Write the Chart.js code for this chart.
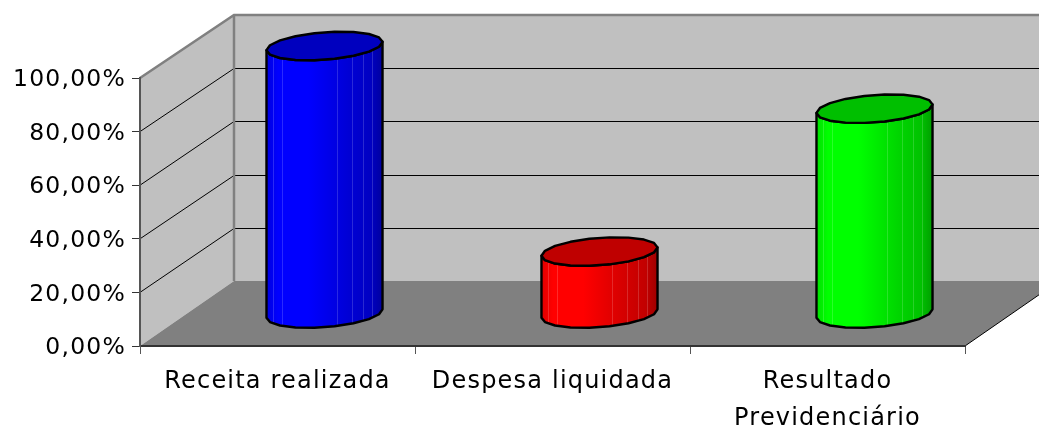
<!DOCTYPE html>
<html>
<head>
<meta charset="utf-8">
<script src="https://cdn.jsdelivr.net/npm/chart.js@4"></script>
<style>
  html, body { margin: 0; padding: 0; background: #fff; }
  canvas { display: block; }
</style>
</head>
<body>
<canvas id="grafico" width="1039" height="431"></canvas>
<script>
const categorias = ['Receita realizada', 'Despesa liquidada', ['Resultado', 'Previdenciário']];
const valores = [100, 23.3, 76.6];
const cores = ['#0000ff', '#ff0000', '#00ff00'];
const rotulosY = ['0,00%', '20,00%', '40,00%', '60,00%', '80,00%', '100,00%'];

// profundidade da caixa 3D
const DX = 94;
const DY = -65;
const DY_TOPO = -63;

function escurece(hex, f) {
  const n = parseInt(hex.slice(1), 16);
  const r = Math.round((n >> 16 & 255) * f);
  const g = Math.round((n >> 8 & 255) * f);
  const b = Math.round((n & 255) * f);
  return `rgb(${r},${g},${b})`;
}

// as barras viram cilindros, no meio da profundidade
Chart.BarElement.prototype.draw = function (ctx) {
  const cor = this.options.backgroundColor;
  const rx = this.width / 2;
  const ry = this.width * 0.118;
  const inclina = this.width * 0.036;
  const cx = this.x + DX / 2;
  const topo = this.y + DY / 2 + 0.5;
  const base = this.base + DY / 2 + 0.5;
  const ponto = (cy, t) => [cx + rx * Math.cos(t), cy + ry * Math.sin(t) - inclina * Math.cos(t)];
  const passos = 9;

  ctx.save();
  ctx.lineJoin = 'round';

  // corpo
  const corpo = new Path2D();
  for (let i = 0; i <= passos; i++) {
    const p = ponto(base, Math.PI - Math.PI * i / passos);
    if (i === 0) corpo.moveTo(p[0], p[1]); else corpo.lineTo(p[0], p[1]);
  }
  for (let i = 0; i <= passos; i++) {
    const p = ponto(topo, Math.PI * i / passos);
    corpo.lineTo(p[0], p[1]);
  }
  corpo.closePath();
  const grad = ctx.createLinearGradient(cx - rx, 0, cx + rx, 0);
  grad.addColorStop(0, escurece(cor, 0.88));
  grad.addColorStop(0.1, escurece(cor, 1));
  grad.addColorStop(0.36, escurece(cor, 1));
  grad.addColorStop(0.7, escurece(cor, 0.84));
  grad.addColorStop(0.9, escurece(cor, 0.76));
  grad.addColorStop(1, escurece(cor, 0.62));
  ctx.fillStyle = grad;
  ctx.fill(corpo);

  // facetas claras
  ctx.save();
  ctx.clip(corpo);
  ctx.strokeStyle = 'rgba(255,255,255,0.16)';
  ctx.lineWidth = 1;
  [0.06, 0.13, 0.61, 0.74, 0.83, 0.91].forEach(f => {
    const x = Math.round(cx - rx + f * this.width) + 0.5;
    ctx.beginPath();
    ctx.moveTo(x, topo - ry * 2);
    ctx.lineTo(x, base + ry * 2);
    ctx.stroke();
  });
  ctx.restore();

  ctx.strokeStyle = '#000';
  ctx.lineWidth = 2.4;
  ctx.stroke(corpo);

  // tampa
  const tampa = new Path2D();
  for (let i = 0; i < passos * 2; i++) {
    const p = ponto(topo, Math.PI * i / passos);
    if (i === 0) tampa.moveTo(p[0], p[1]); else tampa.lineTo(p[0], p[1]);
  }
  tampa.closePath();
  ctx.fillStyle = escurece(cor, 0.75);
  ctx.fill(tampa);
  ctx.stroke(tampa);
  ctx.restore();
};

const caixa3d = {
  id: 'caixa3d',
  beforeDraw(chart) {
    const { ctx, chartArea: a, scales } = chart;
    const y = scales.y;
    const fundo = v => {
      const py = y.getPixelForValue(v);
      return py + DY + (DY_TOPO - DY) * v / 100;
    };
    const fimX = a.right + DX;

    // o texto original é bem espaçado (o chart zera o contexto ao dimensionar, por isso aqui)
    ctx.letterSpacing = '1.2px';

    ctx.save();
    // parede lateral
    ctx.fillStyle = '#c0c0c0';
    ctx.beginPath();
    ctx.moveTo(a.left, a.top);
    ctx.lineTo(a.left + DX, fundo(100));
    ctx.lineTo(a.left + DX, fundo(0));
    ctx.lineTo(a.left, a.bottom);
    ctx.closePath();
    ctx.fill();
    // parede do fundo
    ctx.fillRect(a.left + DX, fundo(100), fimX - a.left - DX, fundo(0) - fundo(100));
    // piso
    ctx.fillStyle = '#808080';
    ctx.beginPath();
    ctx.moveTo(a.left, a.bottom);
    ctx.lineTo(a.right, a.bottom);
    ctx.lineTo(fimX, fundo(0));
    ctx.lineTo(a.left + DX, fundo(0));
    ctx.closePath();
    ctx.fill();

    // linhas de grade
    ctx.strokeStyle = '#000';
    ctx.lineWidth = 1;
    y.ticks.forEach(t => {
      if (t.value === 0 || t.value === 100) return;
      const py = y.getPixelForValue(t.value);
      const by = Math.round(fundo(t.value)) + 0.5;
      ctx.beginPath();
      ctx.moveTo(a.left, py);
      ctx.lineTo(a.left + DX, by);
      ctx.lineTo(fimX, by);
      ctx.stroke();
    });

    // arestas cinza
    ctx.strokeStyle = '#808080';
    ctx.lineWidth = 2.5;
    ctx.beginPath();
    ctx.moveTo(a.left, a.top);
    ctx.lineTo(a.left + DX, fundo(100));
    ctx.lineTo(fimX, fundo(100));
    ctx.moveTo(a.left + DX, fundo(100));
    ctx.lineTo(a.left + DX, fundo(0));
    ctx.stroke();

    // aresta direita do piso
    ctx.strokeStyle = '#000';
    ctx.lineWidth = 1;
    ctx.beginPath();
    ctx.moveTo(a.right, a.bottom);
    ctx.lineTo(fimX, fundo(0));
    ctx.stroke();
    ctx.restore();
  }
};

new Chart(document.getElementById('grafico').getContext('2d'), {
  type: 'bar',
  data: {
    labels: categorias,
    datasets: [{
      data: valores,
      backgroundColor: cores,
      categoryPercentage: 1,
      barPercentage: 0.422,
      clip: false
    }]
  },
  options: {
    responsive: false,
    animation: false,
    layout: { padding: { top: 78, right: 74, left: 0, bottom: 0 } },
    plugins: { legend: { display: false }, tooltip: { enabled: false } },
    scales: {
      x: {
        afterFit: s => { s.height = 85; },
        grid: { drawOnChartArea: false, tickLength: 8, color: '#555', offset: true },
        border: { color: '#333', width: 2 },
        ticks: {
          color: '#000',
          padding: 9,
          maxRotation: 0,
          autoSkip: false,
          font: { family: '"DejaVu Sans"', size: 24, lineHeight: 1.55 }
        }
      },
      y: {
        min: 0,
        max: 100,
        afterFit: s => { s.width = 140; },
        grid: { drawOnChartArea: false, tickLength: 8, color: '#333' },
        border: { color: '#555', width: 2 },
        ticks: {
          stepSize: 20,
          color: '#000',
          padding: 6,
          labelOffset: 2,
          font: { family: '"DejaVu Sans"', size: 23.5 },
          callback: (v, i) => rotulosY[i]
        }
      }
    }
  },
  plugins: [caixa3d]
});
</script>
</body>
</html>
